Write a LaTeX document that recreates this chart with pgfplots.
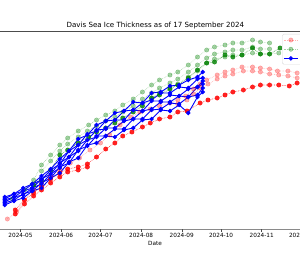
\documentclass[border=0pt]{standalone}
\usepackage{fontspec}
\setmainfont{DejaVu Sans}
\usepackage{pgfplots}
\pgfplotsset{compat=1.18}
\definecolor{mplgreen}{RGB}{0,128,0}
\pgfplotsset{
 pinkst/.style={color=red, densely dotted, line width=0.6pt, mark=*, mark size=2.2pt, mark options={solid, line width=0.4pt}, opacity=0.3},
 redst/.style={color=red, densely dotted, line width=0.6pt, mark=*, mark size=2.2pt, mark options={solid, line width=0.4pt}, opacity=0.85},
 greenst/.style={color=mplgreen, densely dotted, line width=0.6pt, mark=*, mark size=2.2pt, mark options={solid, line width=0.4pt}, opacity=0.35},
 dgreenst/.style={color=mplgreen, densely dotted, line width=0.6pt, mark=*, mark size=2.2pt, mark options={solid, line width=0.4pt}, opacity=0.8},
 bluest/.style={color=blue, solid, line width=0.9pt, mark=*, mark size=1.7pt},
}
\begin{document}
\begin{tikzpicture}[x=1pt,y=1pt]
\useasboundingbox (0,0) rectangle (300,257);
\clip (0,0) rectangle (300,257);
\begin{axis}[
 at={(-30pt,28pt)}, anchor=south west, scale only axis, width=360pt, height=198pt,
 xmin=-38.52, xmax=236.08, ymin=0, ymax=198,
 hide y axis,
 axis line style={black!70, line width=0.5pt},
 xtick={0,31,61,92,123,153,184,214},
 xticklabels={2024-05,2024-06,2024-07,2024-08,2024-09,2024-10,2024-11,2024-12},
 xtick pos=left, tick align=outside, major tick length=3pt,
 tick style={black!70, line width=0.5pt},
 xticklabel style={font=\fontsize{5.75}{6}\selectfont, inner sep=0.8pt},
 xlabel={Date}, xlabel style={at={(ticklabel cs:0.514)}, anchor=north, font=\fontsize{5.75}{6}\selectfont, inner sep=1pt, yshift=-1.5pt},
 title={Davis Sea Ice Thickness as of 17 September 2024},
 title style={at={(rel axis cs:0.515,1)}, anchor=south, font=\fontsize{7.1}{8}\selectfont, inner sep=2pt, yshift=-6pt},
 legend style={at={(rel axis cs:0.8667,0.985)}, anchor=north west, font=\fontsize{5}{5.5}\selectfont, draw=black!15, rounded corners=1.5pt, inner sep=1.2pt, row sep=0pt, cells={anchor=west}},
 legend image code/.code={\draw[mark repeat=2,mark phase=2,#1] plot coordinates {(0pt,0pt) (7pt,0pt) (14pt,0pt)};},
]
% historical lower (pink)
\addplot[pinkst] coordinates {(-10,10)(-3,17)(3,29)(10,39)(16,46)(23,52)(30,59)(38,66)(45,71)(53,79)(61,86)(68,94)(76,104)(84,112)(91,117)(99,120)(106,123)(114,126)(120,129)(126,133)(132,140)(137,145)(142,149)(150,154)(156,157)(162,159)(169,162)(177,162)(183,161)(190,160)(196,158)(204,158)(211,156)};
\addlegendentry{\hspace{8pt}Min}
% historical upper (light green)
\addplot[greenst] coordinates {(-6,30)(3,39)(10,49)(16,64)(23,74)(30,84)(36,91)(44,98)(52,104)(58,109)(65,114)(72,118)(78,124)(86,130)(93,137)(100,144)(106,149)(114,154)(120,157)(128,164)(135,172)(142,179)(148,182)(156,184)(162,186)(169,186)(177,189)(183,187)(190,186)};
\addlegendentry{\hspace{8pt}Max}
\addplot[pinkst, forget plot] coordinates {(120,125)(127,129)(132,135)(137,141)(143,145)(150,150)(156,153)(162,155)(170,158)(177,158)(183,157)(190,155)(197,154)(204,153)(211,151)};
\addplot[greenst, forget plot] coordinates {(16,58)(23,68)(30,78)(36,85)(44,92)(51,98)(58,103)(65,108)(72,112)(78,117)(86,123)(93,130)(100,136)(106,141)(114,146)(120,150)(128,157)(135,164)(142,171)(148,175)(156,177)(162,179)(169,179)(177,182)(183,180)(190,180)};
\addplot[greenst, forget plot] coordinates {(100,131)(106,136)(114,141)(120,145)(128,152)(135,158)(142,166)(148,170)(156,172)(162,174)(169,174)(177,176)(183,175)(190,175)(197,176)};
% red
\addplot[redst, forget plot] coordinates {(-4,19)(3,29)(10,36)(16,42)(23,50)(30,56)(36,60)(44,62)(51,65)(58,72)(65,80)(72,86)(78,93)(85,97)(93,102)(99,106)(106,110)(114,112)(120,117)(127,118)(137,126)(143,129)(150,131)(156,134)(162,137)(170,139)(177,142)(183,144)(190,144)(197,144)(205,143)(211,146)};
\addplot[redst, forget plot] coordinates {(-4,15)(3,25)(10,33)(16,39)(23,46)(30,52)(36,57)(44,59)(51,62)};
% dark green
\addplot[dgreenst, forget plot] coordinates {(10,44)(16,49)(23,59)(30,74)(36,79)(44,86)(52,92)(58,97)(65,101)(72,106)(78,111)(86,117)(93,123)(100,131)(106,134)(114,140)(120,144)(128,151)(135,159)(142,166)(148,167)(156,174)(162,172)(169,174)(177,181)(183,175)(190,175)(198,181)};
% 2024 sites (blue)
\addplot[bluest] coordinates {(-12,32)(-5,35)(2,41)(9,45)(16,53)(23,60)(30,70)(37,78)(44,90)(51,94)(58,104)(65,108)(72,116)(79,118)(86,127)(93,126)(100,136)(107,137)(114,143)(121,144)(128,149)(135,152)(139,157)};
\addlegendentry{\hspace{8pt}2024}
\addplot[bluest, forget plot] coordinates {(-12,30)(-5,35)(2,38)(9,45)(16,49)(23,59)(30,65)(37,78)(44,84)(51,95)(58,98)(65,108)(72,109)(79,118)(86,119)(93,126)(100,129)(107,136)(114,136)(121,142)(128,141)(135,150)(139,151)};
\addplot[bluest, forget plot] coordinates {(-12,29)(-5,32)(2,38)(9,41)(16,50)(23,55)(30,66)(37,72)(44,84)(51,89)(58,99)(65,100)(72,109)(79,109)(86,119)(93,118)(100,128)(107,128)(114,134)(121,133)(128,140)(135,142)(139,148)};
\addplot[bluest, forget plot] coordinates {(-12,27)(-5,32)(2,34)(9,41)(16,45)(23,55)(30,61)(37,72)(44,78)(51,89)(58,92)(65,101)(72,101)(79,108)(86,110)(93,118)(100,120)(107,127)(114,127)(121,133)(128,132)(135,142)(139,145)};
\addplot[bluest, forget plot] coordinates {(-12,26)(-5,29)(2,35)(9,38)(16,46)(23,51)(30,62)(37,66)(44,79)(51,83)(58,93)(65,93)(72,100)(79,100)(86,110)(93,110)(100,119)(107,120)(114,126)(121,125)(128,132)(135,134)(139,141)};
\addplot[bluest, forget plot] coordinates {(-12,24)(-5,28)(2,31)(9,38)(16,41)(23,51)(30,56)(37,67)(44,71)(51,84)(58,86)(65,93)(72,92)(79,99)(86,101)(93,109)(100,110)(107,119)(114,118)(121,124)(128,116)(135,132)(139,137)};
\end{axis}
\end{tikzpicture}
\end{document}
